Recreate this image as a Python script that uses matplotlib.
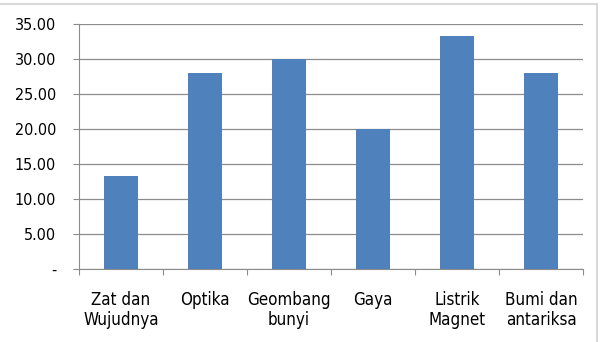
import matplotlib.pyplot as plt
from matplotlib.patches import Rectangle

categories = ["Zat dan\nWujudnya", "Optika", "Geombang\nbunyi", "Gaya", "Listrik\nMagnet", "Bumi dan\nantariksa"]
values = [13.33, 28.0, 30.0, 20.0, 33.33, 28.0]
yticks = [0, 5, 10, 15, 20, 25, 30, 35]
ytick_labels = ["-", "5.00", "10.00", "15.00", "20.00", "25.00", "30.00", "35.00"]

plt.rcParams["font.family"] = ["DejaVu Sans"]
plt.rcParams["font.stretch"] = "condensed"

fig = plt.figure(figsize=(6.03, 3.42), dpi=100)
ax = fig.add_axes([0.131, 0.2135, 0.836, 0.7165])

# outer chart border (only top and right visible)
fig.patches.append(Rectangle((-0.1, -0.1), 0.99 + 0.1, 0.988 + 0.1, transform=fig.transFigure,
                             fill=False, edgecolor="#d9d9d9", lw=1.5))

x = range(len(categories))
ax.bar(x, values, width=0.4, color="#4f81bd", zorder=3)

ax.set_xlim(-0.5, len(categories) - 0.5)
ax.set_ylim(0, 35)
ax.set_yticks(yticks)
ax.set_yticklabels(ytick_labels, fontsize=11.5)
ax.yaxis.grid(True, color="#8c8c8c", lw=0.9, zorder=0)

ax.set_xticks([i - 0.5 for i in range(len(categories) + 1)])
ax.set_xticklabels([])
ax.set_xticks(list(x), minor=True)
ax.set_xticklabels(categories, minor=True, fontsize=12.2)
ax.tick_params(axis="x", which="minor", length=0, pad=15.5)
ax.tick_params(axis="x", which="major", length=4.5, color="#8c8c8c")
ax.tick_params(axis="y", length=4.5, color="#8c8c8c", pad=12)

for s in ["top", "right"]:
    ax.spines[s].set_visible(False)
ax.spines["left"].set_color("#8c8c8c")
ax.spines["bottom"].set_color("#8c8c8c")

fig.savefig("out.png", dpi=100)
